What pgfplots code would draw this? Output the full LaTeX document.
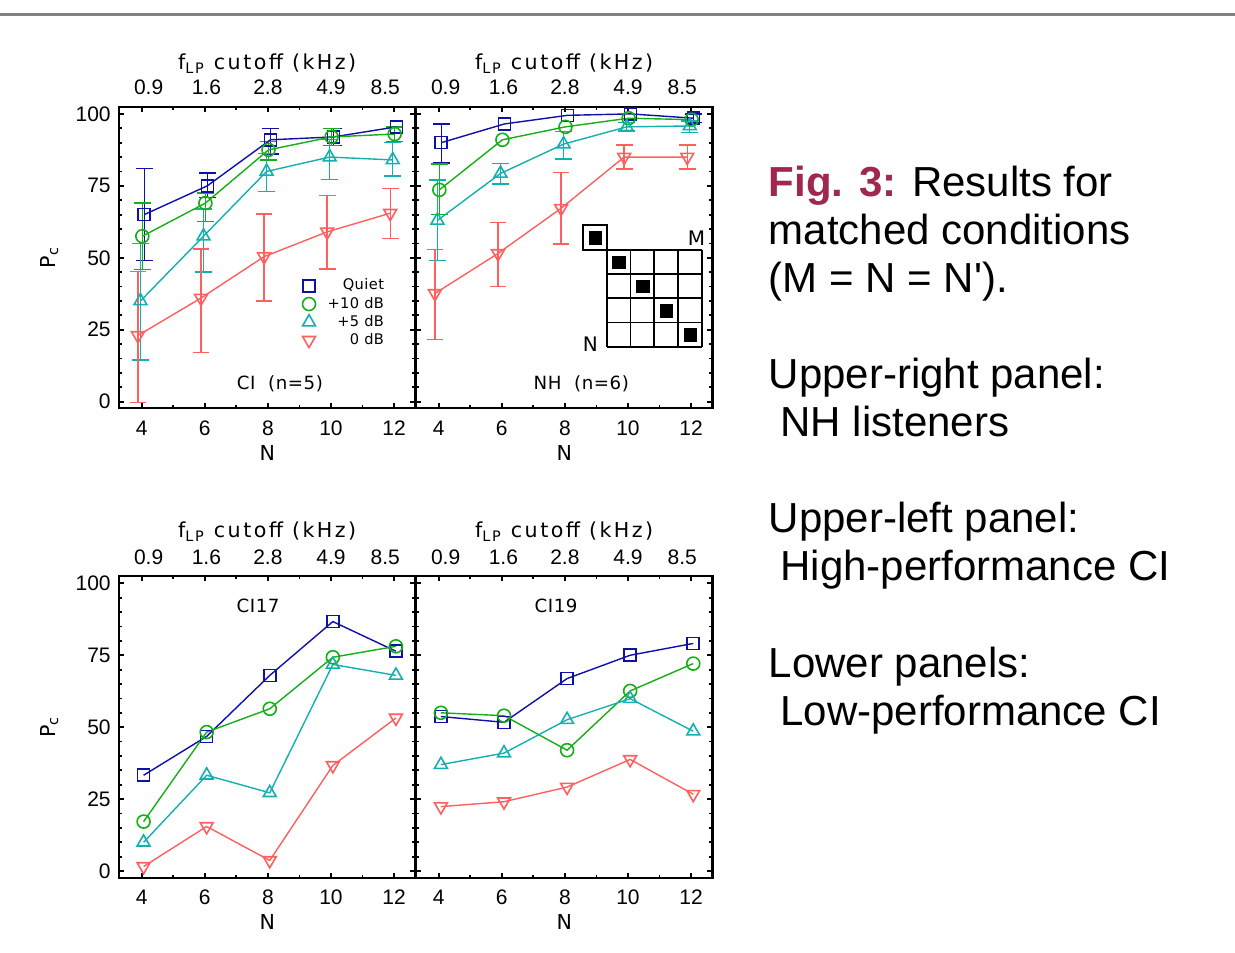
\documentclass[border=0pt]{standalone}
\usepackage{fontspec}
\setmainfont{Liberation Sans}
\newfontfamily\idl{DejaVu Sans}[LetterSpace=3]
\newfontfamily\idlw{DejaVu Sans}[LetterSpace=12]
\newfontfamily\idln{DejaVu Sans}
\usepackage{pgfplots}
\pgfplotsset{compat=1.18}

\definecolor{cQ}{RGB}{15,15,170}
\definecolor{cG}{RGB}{20,175,20}
\definecolor{cC}{RGB}{20,175,175}
\definecolor{cR}{RGB}{255,95,95}
\definecolor{figred}{RGB}{158,40,80}

\tikzset{lab/.style={font=\idl\fontsize{9.1}{11}\selectfont, anchor=base, inner sep=0pt}}

\pgfplotsset{
  panel/.style={
    scale only axis, width=148.25pt, height=150.8pt,
    xmin=3.28, xmax=12.68, ymin=-2.3, ymax=102.5,
    xtick={4,6,8,10,12}, minor xtick={5,7,9,11},
    ytick={0,25,50,75,100}, minor y tick num=4,
    tick align=inside, tick pos=both,
    major tick length=2.6pt, minor tick length=1.6pt,
    every tick/.style={black, line width=0.9pt},
    axis line style={line width=1.1pt},
    /pgf/number format/assume math mode=true,
    tick label style={font=\fontsize{10.5}{12}\selectfont},
    xticklabel style={yshift=-2.7pt},
    yticklabel style={xshift=-0.65pt},
    every axis x label/.style={at={(axis description cs:0.5,-0.147)}, anchor=center, font=\idln\fontsize{10.3}{12}\selectfont},
    every axis y label/.style={at={(axis description cs:-0.2357,0.5)}, anchor=center, rotate=90, font=\idln\fontsize{10.3}{12}\selectfont},
    clip=false,
  },
  topaxis/.style={
    scale only axis, width=148.25pt, height=150.8pt,
    xmin=3.28, xmax=12.68, ymin=-2.3, ymax=102.5,
    xtick={4.22,6.05,8,10,11.72}, xticklabels={0.9,1.6,2.8,4.9,8.5},
    xticklabel pos=upper, ytick=\empty, minor xtick={},
    major tick length=0pt, axis line style={draw=none},
    tick label style={font=\fontsize{10.5}{12}\selectfont},
    xticklabel style={yshift=2.35pt},
    xlabel={f\textsubscript{LP} cutoff (kHz)},
    every axis x label/.style={at={(axis description cs:0.5,#1)}, anchor=base, font=\idlw\fontsize{10.3}{12}\selectfont},
  },
  sQ/.style={cQ, line width=0.7pt, mark=square, mark size=3.0pt, mark options={line width=0.8pt, fill=white}, forget plot},
  sG/.style={cG, line width=0.7pt, mark=o, mark size=3.25pt, mark options={line width=0.8pt, fill=white}, forget plot},
  sC/.style={cC, line width=0.7pt, mark=triangle, mark size=3.7pt, mark options={line width=0.8pt, fill=white}, forget plot},
  sR/.style={cR, line width=0.7pt, mark=triangle, mark size=3.7pt, mark options={rotate=180, line width=0.8pt, fill=white}, forget plot},
  eb/.style={forget plot, draw=none, no markers,
    error bars/.cd, y dir=both, y explicit,
    error bar style={draw=#1, line width=0.7pt},
    error mark options={rotate=90, mark size=4.2pt, line width=0.7pt, draw=#1}},
}

\begin{document}
\begin{tikzpicture}
\path[use as bounding box] (0,0) rectangle (617.5pt,-476pt);
\draw[line width=1.35pt, gray] (0,-7.35pt) -- (617.5pt,-7.35pt);

% ---------------- Upper-left: CI (n=5)
\begin{axis}[topaxis=1.1237, at={(59.5pt,-204.15pt)}, anchor=south west]
\end{axis}
\begin{axis}[panel, at={(59.5pt,-204.15pt)}, anchor=south west,
  xlabel={N}, ylabel={P\textsubscript{c}},
  legend style={at={(axis description cs:0.902,0.437)}, anchor=north east, draw=none, fill=none,
    font=\idl\fontsize{7.3}{8}\selectfont, row sep=0pt, column sep=5pt, inner sep=0pt, nodes={inner sep=1pt}},
  legend cell align=right]
\addlegendimage{only marks, mark=square, mark size=3.0pt, cQ, mark options={line width=0.8pt}}
\addlegendentry{Quiet}
\addlegendimage{only marks, mark=o, mark size=3.25pt, cG, mark options={line width=0.8pt}}
\addlegendentry{+10 dB}
\addlegendimage{only marks, mark=triangle, mark size=3.7pt, cC, mark options={line width=0.8pt}}
\addlegendentry{+5 dB}
\addlegendimage{only marks, mark=triangle, mark size=3.7pt, mark options={rotate=180, line width=0.8pt}, cR}
\addlegendentry{0 dB}
\addplot[eb=cQ] coordinates {(4.08,65) += (0,16) -= (0,16) (6.08,75) += (0,4.5) -= (0,4) (8.08,91) += (0,4) -= (0,5) (10.08,92) += (0,3) -= (0,3)};
\addplot[eb=cG] coordinates {(4.02,57.5) += (0,11.5) -= (0,11.5) (6.02,69) += (0,3.5) -= (0,6.4) (8.02,87.5) += (0,3) -= (0,3.5) (10.02,92) += (0,3) -= (0,3) (12.02,93) += (0,2.5) -= (0,2.5)};
\addplot[eb=cC] coordinates {(3.96,35) += (0,20) -= (0,20.5) (5.96,57.5) += (0,9.5) -= (0,12.5) (7.96,80) += (0,6.3) -= (0,7) (9.96,85) += (0,6) -= (0,7.7) (11.96,84) += (0,6) -= (0,5.6)};
\addplot[eb=cR] coordinates {(3.88,23) += (0,22.2) -= (0,23.3) (5.88,36) += (0,17) -= (0,19) (7.88,50.4) += (0,14.8) -= (0,15.4) (9.88,59) += (0,12.7) -= (0,12.9) (11.88,65.5) += (0,8.5) -= (0,8.7)};
\addplot[sQ] coordinates {(4.08,65) (6.08,75) (8.08,91) (10.08,92) (12.08,95.5)};
\addplot[sG] coordinates {(4.02,57.5) (6.02,69) (8.02,87.5) (10.02,92) (12.02,93)};
\addplot[sC] coordinates {(3.96,35) (5.96,57.5) (7.96,80) (9.96,85) (11.96,84)};
\addplot[sR] coordinates {(3.88,23) (5.88,36) (7.88,50.4) (9.88,59) (11.88,65.5)};
\node[lab] at (axis cs:8.38,4.1) {CI\ \ (n=5)};
\end{axis}

% ---------------- Upper-right: NH (n=6)
\begin{axis}[topaxis=1.1237, at={(208pt,-204.15pt)}, anchor=south west]
\end{axis}
\begin{axis}[panel, at={(208pt,-204.15pt)}, anchor=south west, xlabel={N}, yticklabels={}]
\addplot[eb=cQ] coordinates {(4.08,90) += (0,6.5) -= (0,7) (12.08,98.5) += (0,1.5) -= (0,1.5)};
\addplot[eb=cG] coordinates {(4.02,73.6) += (0,9) -= (0,8.6)};
\addplot[eb=cC] coordinates {(3.96,63) += (0,14) -= (0,14) (5.96,79.3) += (0,3.5) -= (0,3.7) (7.96,89.5) += (0,4.3) -= (0,5.2) (9.96,95.5) += (0,1.5) -= (0,1.5) (11.96,95.8) += (0,1.7) -= (0,2.2)};
\addplot[eb=cR] coordinates {(3.88,37.6) += (0,15.3) -= (0,16) (5.88,51.5) += (0,10.7) -= (0,11.4) (7.88,67.2) += (0,12.5) -= (0,12.4) (9.88,85) += (0,4.2) -= (0,4.2) (11.88,85) += (0,4.2) -= (0,4.2)};
\addplot[sQ] coordinates {(4.08,90) (6.08,96.5) (8.08,99.5) (10.08,100) (12.08,98.5)};
\addplot[sG] coordinates {(4.02,73.6) (6.02,91) (8.02,95.5) (10.02,98.5) (12.02,98)};
\addplot[sC] coordinates {(3.96,63) (5.96,79.3) (7.96,89.5) (9.96,95.5) (11.96,95.8)};
\addplot[sR] coordinates {(3.88,37.6) (5.88,51.5) (7.88,67.2) (9.88,85) (11.88,85)};
\node[lab] at (axis cs:8.52,4.3) {NH\ \ (n=6)};
\end{axis}

% ---------------- Lower-left: CI17
\begin{axis}[topaxis=1.128, at={(59.5pt,-438.85pt)}, anchor=south west]
\end{axis}
\begin{axis}[panel, at={(59.5pt,-438.85pt)}, anchor=south west, xlabel={N}, ylabel={P\textsubscript{c}}]
\addplot[sQ] coordinates {(4.06,33.3) (6.06,46.8) (8.06,68) (10.06,86.7) (12.06,76.4)};
\addplot[sG] coordinates {(4.06,17.2) (6.06,48.3) (8.06,56.4) (10.06,74.3) (12.06,78.1)};
\addplot[sC] coordinates {(4.06,10) (6.06,33.3) (8.06,27.2) (10.06,71.8) (12.06,68)};
\addplot[sR] coordinates {(4.06,1.6) (6.06,15.5) (8.06,3.7) (10.06,36.7) (12.06,53.2)};
\node[lab] at (axis cs:7.69,89.7) {CI17};
\end{axis}

% ---------------- Lower-right: CI19
\begin{axis}[topaxis=1.128, at={(208pt,-438.85pt)}, anchor=south west]
\end{axis}
\begin{axis}[panel, at={(208pt,-438.85pt)}, anchor=south west, xlabel={N}, yticklabels={}]
\addplot[sQ] coordinates {(4.07,53.7) (6.07,51.7) (8.07,66.9) (10.07,75) (12.07,79.1)};
\addplot[sG] coordinates {(4.07,55) (6.07,54) (8.07,42) (10.07,62.6) (12.07,72.1)};
\addplot[sC] coordinates {(4.07,37) (6.07,41) (8.07,52.6) (10.07,59.9) (12.07,48.6)};
\addplot[sR] coordinates {(4.07,22.4) (6.07,24.1) (8.07,29.2) (10.07,38.8) (12.07,26.7)};
\node[lab] at (axis cs:7.72,89.7) {CI19};
\end{axis}

% ---------------- inset schematic (px coordinates)
\begin{scope}[x=0.5pt, y=-0.5pt, line width=0.9pt]
\draw (582.7,225) rectangle (606.7,250);
\fill (588.5,230.8) rectangle (602.2,244.5);
\foreach \i in {0,...,4} {
  \draw (606.7+23.75*\i,250) -- (606.7+23.75*\i,346.7);
  \draw (606.7,250+24.18*\i) -- (701.7,250+24.18*\i);
}
\foreach \i in {0,...,3} {
  \fill (612.3+23.75*\i,255.7+24.18*\i) rectangle ++(13.6,13.6);
}
\node[anchor=base east, inner sep=0pt, font=\idln\fontsize{10}{11}\selectfont] at (706,245.5) {M};
\node[anchor=base east, inner sep=0pt, font=\idln\fontsize{10}{11}\selectfont] at (598.8,351.7) {N};
\end{scope}

% ---------------- caption text
\begin{scope}[every node/.style={anchor=base west, inner sep=0pt, font=\fontsize{21}{24}\selectfont}]
\node at (384.25pt,-98.25pt) {\textcolor{figred}{\textbf{Fig. 3:}} Results for};
\node at (384.25pt,-122.25pt) {matched conditions};
\node at (384.25pt,-146.3pt) {(M = N = N\textquotesingle).};
\node at (384.25pt,-194.35pt) {Upper-right panel:};
\node at (384.25pt,-218.4pt) {\hspace{0.278em}NH listeners};
\node at (384.25pt,-266.45pt) {Upper-left panel:};
\node at (384.25pt,-290.45pt) {\hspace{0.278em}High-performance CI};
\node at (384.25pt,-338.5pt) {Lower panels:};
\node at (384.25pt,-362.5pt) {\hspace{0.278em}Low-performance CI};
\end{scope}
\end{tikzpicture}
\end{document}
